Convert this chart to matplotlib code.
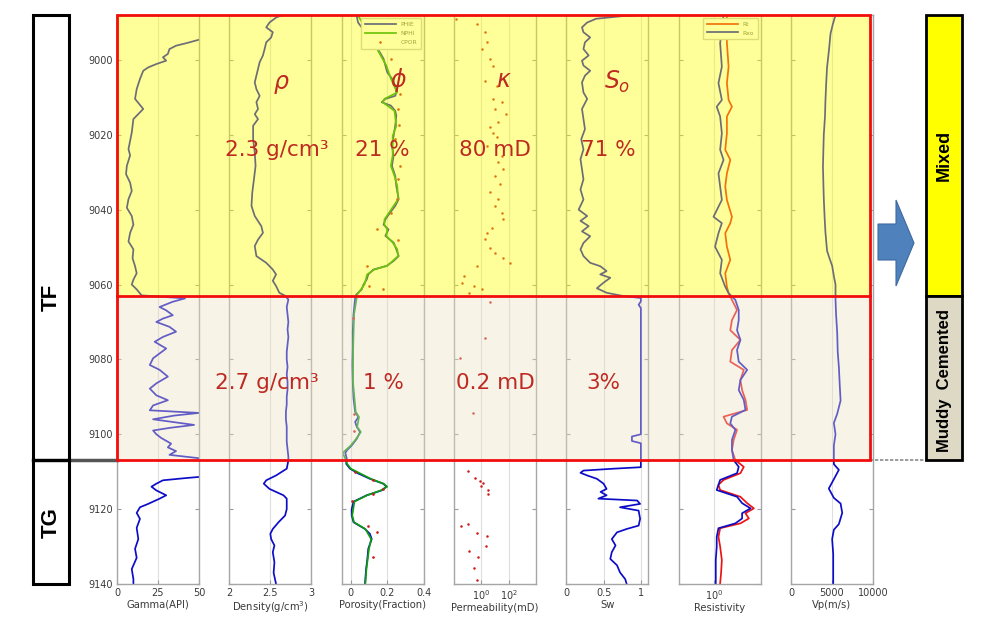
import numpy as np
import matplotlib
matplotlib.use("Agg")
import matplotlib.pyplot as plt
import matplotlib.patches as mpatches
import matplotlib.transforms as mtransforms
from matplotlib.lines import Line2D
from matplotlib.ticker import NullLocator

# ---------------- data ----------------
zone_bounds = [8988, 9063, 9107, 9140]      # top, mixed/cemented boundary, TF/TG boundary, bottom
depth_ticks = [9000, 9020, 9040, 9060, 9080, 9100, 9120, 9140]

gr_depth = [8988, 8994.3, 8994.6, 8995.5, 8996.2, 8997.1, 8998.4, 8999.3, 9000.2, 9001.1, 9002.0, 9002.9,
            9005.1, 9007.8, 9010.4, 9013.1, 9015.8, 9019.4, 9023.8, 9025.5, 9028.3, 9030.5, 9032.8, 9035.0,
            9037.2, 9039.5, 9041.7, 9044.0, 9046.2, 9048.5, 9050.6, 9053.0, 9055.1, 9057.0, 9058.7, 9060.0,
            9061.3, 9062.9, 9063.7, 9064.6, 9066.0, 9066.9, 9068.2, 9069.1, 9070.0, 9071.3, 9072.6, 9074.0,
            9075.3, 9077.1, 9078.4, 9079.7, 9081.5, 9082.8, 9084.6, 9086.4, 9087.8, 9089.6, 9090.9, 9092.3,
            9093.6, 9094.3, 9095.0, 9096.0, 9097.5, 9098.3, 9099.0, 9100.0, 9101.0, 9102.5, 9103.5, 9104.5,
            9105.5, 9106.4, 9107.5, 9111.0, 9111.4, 9111.7, 9112.3, 9113.2, 9114.0, 9115.0, 9116.3, 9117.2,
            9118.6, 9119.5, 9121.0, 9122.6, 9125.0, 9128.0, 9130.6, 9133.0, 9136.0, 9138.7, 9140.0]
gr_api = [60, 55, 50, 42.5, 36, 32, 31, 28, 30, 24, 19, 16,
          14, 12, 11, 16, 10, 9, 7, 8, 6, 5.5, 8, 9,
          7, 6, 9, 10, 8, 7, 10, 9.5, 11, 12, 10, 9,
          12, 15, 41.5, 34, 26, 30, 34, 28, 24, 32, 36, 28,
          23, 30, 26, 22, 20, 26, 31, 24, 20, 24, 31, 22,
          20, 50, 35, 22, 47, 32, 22, 24, 27, 33, 31, 36,
          32, 50, 60, 55, 50, 42, 28, 24, 21, 24, 30, 26,
          19, 14, 12, 14, 12, 13, 11, 12, 9, 10, 10]

rho_depth = [8987.7, 8988.6, 8990.0, 8991.3, 8992.6, 8994.0, 8995.3, 8997.1, 8998.8, 9000.6, 9002.4, 9004.2,
             9006.0, 9007.8, 9009.6, 9011.3, 9013.1, 9014.5, 9015.8, 9017.6, 9021.2, 9024.7, 9028.3, 9031.9,
             9035.4, 9039.0, 9041.7, 9044.4, 9046.2, 9048.0, 9049.7, 9052.4, 9054.2, 9056.0, 9057.3, 9059.0,
             9060.4, 9062.2, 9063.0, 9064, 9066, 9068, 9070, 9072, 9074, 9076, 9078, 9080, 9082, 9084, 9086,
             9088, 9090, 9092, 9094, 9096, 9098, 9100, 9102, 9104, 9106, 9107.0, 9109.2, 9111.0, 9112.3,
             9113.2, 9114.6, 9116.3, 9117.2, 9120.0, 9121.7, 9123.5, 9125.3, 9126.6, 9128.0, 9129.7, 9131.5,
             9134.2, 9137.0, 9140.0]
rho_gcc = [2.70, 2.575, 2.49, 2.45, 2.53, 2.51, 2.45, 2.43, 2.41, 2.37, 2.35, 2.33,
           2.31, 2.33, 2.37, 2.33, 2.35, 2.31, 2.35, 2.29, 2.29, 2.31, 2.32, 2.30,
           2.28, 2.27, 2.31, 2.39, 2.41, 2.35, 2.31, 2.33, 2.45, 2.53, 2.57, 2.53,
           2.57, 2.61, 2.68, 2.72, 2.70, 2.71, 2.72, 2.71, 2.72, 2.71, 2.70, 2.70, 2.71, 2.70, 2.71,
           2.71, 2.70, 2.70, 2.69, 2.69, 2.70, 2.70, 2.70, 2.71, 2.72, 2.72, 2.70, 2.57, 2.45,
           2.42, 2.49, 2.66, 2.70, 2.70, 2.68, 2.60, 2.53, 2.50, 2.51, 2.55, 2.53,
           2.55, 2.54, 2.57]

phie_depth = [8987.7, 8990.0, 8994.0, 8998.0, 8999.7, 9001.5, 9003.3, 9005.0, 9006.9, 9008.7, 9009.6, 9010.4,
              9011.3, 9012.2, 9013.6, 9014.9, 9017.6, 9020.3, 9023.0, 9025.6, 9028.3, 9031.0, 9033.7, 9037.2,
              9039.0, 9040.8, 9042.6, 9044.0, 9045.3, 9047.0, 9048.8, 9050.6, 9052.4, 9053.7, 9055.0, 9056.0,
              9057.3, 9058.7, 9060.0, 9061.3, 9062.7, 9063.7, 9068.0, 9072.6, 9077.0, 9081.5, 9086.0, 9090.4,
              9094.0, 9095.4, 9096.7, 9098.0, 9099.4, 9101.2, 9103.0, 9104.2, 9105.0, 9106.5, 9107.9, 9109.2,
              9110.5, 9111.9, 9113.2, 9114.0, 9115.0, 9116.3, 9118.0, 9120.0, 9121.7, 9123.5, 9125.3, 9126.6,
              9128.0, 9130.6, 9133.3, 9136.0, 9140.0]
phie = [0.03, 0.04, 0.10, 0.16, 0.18, 0.19, 0.20, 0.226, 0.244, 0.25, 0.244, 0.19,
        0.17, 0.22, 0.244, 0.25, 0.244, 0.235, 0.226, 0.235, 0.226, 0.244, 0.25, 0.263,
        0.244, 0.216, 0.19, 0.18, 0.207, 0.19, 0.235, 0.25, 0.263, 0.235, 0.198, 0.124,
        0.096, 0.087, 0.07, 0.06, 0.03, 0.024, 0.015, 0.011, 0.011, 0.009, 0.011, 0.015,
        0.024, 0.042, 0.024, 0.033, 0.051, 0.033, 0.005, -0.02, -0.03, -0.022, -0.025, -0.004,
        0.042, 0.105, 0.178, 0.196, 0.169, 0.087, 0.015, 0.005, 0.005, 0.015, 0.078, 0.105,
        0.115, 0.096, 0.091, 0.084, 0.078]

nphi_depth = [8987.7, 8994.0, 8998.0, 9001.5, 9005.0, 9008.7, 9010.4, 9011.3, 9013.6, 9017.6, 9020.3, 9023.0,
              9025.6, 9028.3, 9031.0, 9033.7, 9037.2, 9040.8, 9042.6, 9044.0, 9045.3, 9047.0, 9048.8, 9050.6,
              9052.4, 9055.0, 9056.0, 9057.3, 9060.0, 9062.7, 9068.0, 9077.0, 9086.0, 9094.0, 9095.4, 9098.0,
              9099.4, 9101.2, 9103.0, 9105.0, 9106.5, 9107.9, 9109.2, 9111.9, 9113.2, 9114.0, 9115.0, 9116.3,
              9118.0, 9121.7, 9123.5, 9125.3, 9128.0, 9130.6, 9136.0, 9140.0]
nphi = [0.035, 0.11, 0.155, 0.195, 0.22, 0.255, 0.185, 0.175, 0.24, 0.25, 0.23, 0.23,
        0.23, 0.22, 0.24, 0.255, 0.26, 0.21, 0.185, 0.185, 0.20, 0.195, 0.23, 0.255,
        0.26, 0.20, 0.13, 0.09, 0.075, 0.035, 0.018, 0.013, 0.012, 0.027, 0.045, 0.035,
        0.055, 0.03, 0.0, -0.045, -0.03, -0.02, 0.0, 0.11, 0.18, 0.20, 0.165, 0.09,
        0.02, 0.008, 0.018, 0.08, 0.112, 0.10, 0.086, 0.08]

cpor_depth = [8999.7, 9009.0, 9013.0, 9017.5, 9021.0, 9028.3, 9031.9, 9037.2, 9040.8, 9045.3, 9048.0,
              9055.0, 9060.4, 9061.3, 9069.0, 9094.5, 9099.0, 9110.1, 9112.3, 9114.6, 9115.9, 9117.7,
              9124.4, 9126.2, 9132.9]
cpor = [0.22, 0.27, 0.26, 0.265, 0.245, 0.27, 0.26, 0.255, 0.22, 0.145, 0.26,
        0.09, 0.10, 0.175, 0.013, 0.02, 0.02, 0.024, 0.124, 0.178, 0.124, 0.005,
        0.095, 0.142, 0.124]

perm_depth = [8989.0, 8990.4, 8992.6, 8995.3, 8997.1, 8999.7, 9001.5, 9005.5, 9006.9, 9010.4, 9011.3, 9013.1,
              9014.5, 9016.7, 9018.0, 9019.4, 9020.7, 9022.9, 9025.6, 9027.4, 9029.2, 9031.0, 9033.2, 9035.4,
              9037.2, 9039.0, 9040.8, 9042.6, 9044.8, 9046.2, 9047.9, 9050.2, 9051.5, 9052.9, 9054.2, 9055.1,
              9057.8, 9059.6, 9060.4, 9062.2, 9061.3, 9064.6, 9074.2, 9079.7, 9094.3, 9109.8, 9111.7, 9112.6,
              9112.9, 9113.8, 9114.8, 9115.9, 9124.4, 9123.9, 9126.3, 9127.2, 9129.9, 9131.3, 9132.9, 9135.8,
              9138.9]
perm_log10 = [-1.86, -0.31, 0.29, 0.40, 0.05, 0.64, 0.88, 0.29, 1.12, 0.88, 1.48, 1.0,
              1.83, 1.24, 0.64, 0.88, 1.12, 0.40, 1.48, 1.24, 1.60, 1.0, 1.36, 0.64,
              1.24, 1.0, 1.48, 1.60, 0.76, 0.40, 0.29, 0.64, 1.0, 1.60, 2.07, -0.31,
              -1.26, -1.38, -0.55, -0.90, 0.05, 0.61, 0.24, -1.53, -0.64, -0.94, -0.47, -0.12,
              0.14, 0.0, 0.47, 0.47, -1.51, -0.94, -0.28, 0.38, 0.31, -0.87, -0.21, -0.56,
              -0.35]

sw_depth = [8988.0, 8988.3, 8989.0, 8990.0, 8991.3, 8992.6, 8994.0, 8995.3, 8997.1, 8998.8, 9000.2, 9001.5,
            9002.9, 9004.2, 9006.0, 9008.7, 9010.4, 9013.1, 9015.8, 9018.5, 9021.2, 9023.9, 9026.5, 9029.2,
            9031.9, 9034.6, 9037.3, 9040.0, 9041.7, 9043.0, 9044.4, 9045.8, 9047.1, 9048.9, 9050.6, 9052.4,
            9054.2, 9055.1, 9056.4, 9057.3, 9058.2, 9059.5, 9061.0, 9062.2, 9063.1, 9063.6, 9064.5, 9065.4,
            9066.3, 9100.0, 9100.6, 9101.8, 9102.4, 9108.8, 9109.2, 9109.7, 9110.3, 9111.0, 9111.9, 9113.2,
            9114.6, 9115.4, 9116.3, 9117.2, 9117.7, 9118.6, 9119.5, 9120.4, 9122.6, 9124.4, 9125.3, 9126.2,
            9128.0, 9129.7, 9131.5, 9133.3, 9135.0, 9136.9, 9138.7, 9140.0]
sw = [1.0, 0.75, 0.40, 0.28, 0.21, 0.23, 0.32, 0.25, 0.23, 0.30, 0.21, 0.23,
      0.32, 0.25, 0.21, 0.23, 0.28, 0.21, 0.23, 0.25, 0.20, 0.23, 0.19, 0.21,
      0.23, 0.19, 0.23, 0.165, 0.28, 0.19, 0.30, 0.21, 0.32, 0.23, 0.19, 0.23,
      0.32, 0.455, 0.54, 0.455, 0.59, 0.50, 0.41, 0.54, 0.77, 1.0, 1.0, 0.97,
      1.0, 1.0, 0.88, 0.88, 1.0, 1.0, 0.63, 0.23, 0.19, 0.28, 0.41, 0.50,
      0.54, 0.46, 0.54, 0.43, 0.95, 0.99, 0.72, 0.97, 0.99, 0.97, 0.81, 0.68,
      0.61, 0.66, 0.61, 0.59, 0.68, 0.72, 0.79, 0.81]

res_depth = [8988.0, 8995.5, 9001.8, 9006.2, 9010.7, 9012.5, 9015.1, 9019.6, 9024.0, 9026.7, 9030.3, 9033.8,
             9037.4, 9041.9, 9043.6, 9046.3, 9049.9, 9053.4, 9057.0, 9060.6, 9062.3, 9064.1, 9066.8, 9069.5,
             9072.2, 9074.8, 9077.5, 9080.6, 9082.8, 9085.5, 9088.2, 9090.8, 9093.5, 9095.3, 9097.1, 9098.8,
             9101.5, 9104.2, 9106.9, 9108.7, 9110.4, 9112.2, 9113.5, 9114.9, 9116.7, 9118.4, 9119.8, 9121.1,
             9122.5, 9123.8, 9125.1, 9127.4, 9130.0, 9133.6, 9137.1, 9139.8]
rt = [2.26, 2.26, 2.52, 2.26, 2.52, 3.13, 2.26, 2.26, 2.03, 2.81, 2.26, 2.03,
      2.26, 3.13, 2.81, 2.03, 2.26, 2.81, 2.03, 2.26, 2.52, 3.13, 4.35, 3.13,
      2.81, 5.41, 3.13, 2.81, 6.72, 5.41, 6.03, 7.50, 8.36, 1.82, 2.26, 4.35,
      3.50, 3.13, 3.90, 6.72, 5.41, 1.82, 1.31, 1.46, 5.41, 8.36, 12.9, 7.50,
      9.32, 5.41, 1.46, 1.31, 1.46, 1.63, 1.55, 1.46]
rxo = [1.82, 1.46, 1.63, 1.31, 1.63, 1.17, 1.46, 1.63, 1.46, 1.82, 1.31, 1.46,
       1.63, 0.95, 1.63, 1.31, 1.05, 1.63, 1.46, 2.03, 2.52, 3.90, 4.85, 4.85,
       4.35, 5.41, 4.35, 4.85, 8.36, 5.41, 4.85, 6.72, 7.50, 3.13, 2.81, 3.90,
       3.13, 3.13, 3.50, 4.85, 4.35, 1.46, 1.31, 1.17, 4.35, 6.03, 10.4, 6.03,
       6.03, 3.90, 1.31, 1.17, 1.17, 1.10, 1.10, 1.10]

vp_depth = [8988, 8990.5, 8993, 8997, 9002, 9006, 9011, 9015, 9020, 9024, 9028.5, 9033, 9037, 9042, 9046,
            9051, 9053, 9055, 9058, 9060, 9062, 9064, 9068, 9073, 9078, 9082, 9087, 9091, 9094.5, 9097,
            9100, 9103, 9107, 9108, 9109.5, 9112, 9114.5, 9117, 9118.5, 9121, 9124, 9125.5, 9128, 9132,
            9135, 9140]
vp = [5430, 5100, 4820, 4650, 4400, 4300, 4200, 4150, 4000, 3950, 3900, 3950, 4000, 4100, 4200,
      4400, 4700, 5020, 5250, 5430, 5430, 5430, 5500, 5640, 5700, 5840, 5950, 6050, 5640, 5230,
      5430, 5230, 5230, 5230, 5840, 5230, 4610, 5230, 6050, 6250, 5840, 5230, 5020, 5150,
      5150, 5150]

track_labels = ["Gamma(API)", "Density(g/cm$^3$)", "Porosity(Fraction)", "Permeability(mD)",
                "Sw", "Resistivity", "Vp(m/s)"]
track_xlims = [(0, 50), (2, 3), (-0.05, 0.4), (1e-2, 1e4), (0, 1.1), (0.1, 20), (0, 10000)]
track_xticks = [[0, 25, 50], [2, 2.5, 3], [0, 0.2, 0.4], [1, 100], [0, 0.5, 1], [1], [0, 5000, 10000]]
track_xticklabels = [["0", "25", "50"], ["2", "2.5", "3"], ["0", "0.2", "0.4"],
                     ["$10^0$", "$10^2$"], ["0", "0.5", "1"], ["$10^0$"], ["0", "5000", "10000"]]
track_log = [False, False, False, True, False, True, False]

zone_names_left = ["TF", "TG"]
zone_names_right = ["Mixed", "Muddy  Cemented"]
symbols = ["ρ", "ϕ", "κ", "$S_o$"]
upper_values = ["2.3 g/cm³", "21 %", "80 mD", "71 %"]
lower_values = ["2.7 g/cm³", "1 %", "0.2 mD", "3%"]

# ---------------- figure ----------------
plt.rcParams["font.family"] = ["DejaVu Sans"]
W, H = 998, 632
fig = plt.figure(figsize=(W / 100, H / 100), dpi=100)


def fx(x):
    return x / W


def fy(y):
    return 1 - y / H


TRACK_LEFT, TRACK_STEP, TRACK_W, TOP, BOTTOM = 117, 112.33, 82, 15, 584
BLUE = (0.05, 0.05, 0.78)
RED = (0.92, 0.08, 0.08)
DOTRED = (0.8, 0.1, 0.1)
GREEN = (0.05, 0.62, 0.05)
SPINE = "#a6a6a6"
TXT = "#3a3a3a"

axes = []
for i in range(7):
    left = TRACK_LEFT + i * TRACK_STEP
    ax = fig.add_axes([fx(left), fy(BOTTOM), TRACK_W / W, (BOTTOM - TOP) / H])
    if track_log[i]:
        ax.set_xscale("log")
    ax.set_xlim(*track_xlims[i])
    ax.set_ylim(zone_bounds[-1], zone_bounds[0])
    ax.set_xticks(track_xticks[i])
    ax.set_xticklabels(track_xticklabels[i])
    ax.xaxis.set_minor_locator(NullLocator())
    ax.set_yticks(depth_ticks)
    ax.yaxis.set_minor_locator(NullLocator())
    ax.tick_params(axis="both", direction="in", length=3, color="#9a9a9a", labelsize=7,
                   labelcolor=TXT, pad=3, top=False, right=True)
    if i > 0:
        ax.tick_params(axis="y", labelleft=False)
    ax.grid(axis="x", color="#dedede", lw=0.8)
    for s in ax.spines.values():
        s.set_color(SPINE)
        s.set_linewidth(1.0)
    ax.set_xlabel(track_labels[i], fontsize=7.2, color=TXT, labelpad=1)
    axes.append(ax)

lw = 1.25
axes[0].plot(gr_api, gr_depth, color=BLUE, lw=lw)
axes[1].plot(rho_gcc, rho_depth, color=BLUE, lw=lw)
axes[2].plot(phie, phie_depth, color=BLUE, lw=lw, label="PHIE")
axes[2].plot(nphi, nphi_depth, color=GREEN, lw=lw, label="NPHI")
axes[2].plot(cpor, cpor_depth, ls="none", marker=".", ms=1.8, color=DOTRED, label="CPOR")
axes[3].plot(10 ** np.array(perm_log10), perm_depth, ls="none", marker=".", ms=1.6, color=DOTRED)
axes[4].plot(sw, sw_depth, color=BLUE, lw=lw)
axes[5].plot(rt, res_depth, color=RED, lw=lw, label="Rt")
axes[5].plot(rxo, res_depth, color=BLUE, lw=lw, label="Rxo")
axes[6].plot(vp, vp_depth, color=BLUE, lw=lw)

for ax, spacing in ((axes[2], 0.7), (axes[5], 0.6)):
    leg = ax.legend(loc="upper right", fontsize=4.3, handlelength=5.2, borderpad=0.6,
                    labelspacing=spacing, borderaxespad=0.5, fancybox=False, framealpha=1,
                    edgecolor="#c8c8c8", markerscale=1.0)
    for t in leg.get_texts():
        t.set_color("#666666")

# ---------------- zone overlays ----------------
trans = mtransforms.blended_transform_factory(fig.transFigure, axes[0].transData)
x0 = fx(TRACK_LEFT)
x1 = fx(TRACK_LEFT + 6 * TRACK_STEP + TRACK_W - 3)
fig.add_artist(mpatches.Rectangle((x0, zone_bounds[0]), x1 - x0, zone_bounds[1] - zone_bounds[0],
                                  transform=trans, facecolor=(1, 1, 0), alpha=0.4,
                                  edgecolor="none", zorder=5))
fig.add_artist(mpatches.Rectangle((x0, zone_bounds[1]), x1 - x0, zone_bounds[2] - zone_bounds[1],
                                  transform=trans, facecolor=(0.93, 0.88, 0.76), alpha=0.38,
                                  edgecolor="none", zorder=5))
fig.add_artist(mpatches.Rectangle((x0, zone_bounds[0]), x1 - x0, zone_bounds[2] - zone_bounds[0],
                                  transform=trans, fill=False, edgecolor=(0.95, 0.05, 0.05),
                                  lw=2.0, zorder=6))
fig.add_artist(Line2D([x0, x1], [zone_bounds[1]] * 2, transform=trans,
                      color=(0.95, 0.05, 0.05), lw=2.0, zorder=6))

# separators
fig.add_artist(Line2D([fx(33), x0], [zone_bounds[2]] * 2, transform=trans,
                      color="#555555", lw=2.5, zorder=4))
fig.add_artist(Line2D([x1, fx(926)], [zone_bounds[2]] * 2, transform=trans,
                      color="#8a8a8a", lw=1.2, ls=(0, (2, 1)), zorder=4))

# left formation boxes
bx0, bx1 = fx(33), fx(69)
fig.add_artist(mpatches.Rectangle((bx0, zone_bounds[0]), bx1 - bx0, zone_bounds[2] - zone_bounds[0],
                                  transform=trans, fill=False, edgecolor="black", lw=2.2, zorder=6))
fig.add_artist(mpatches.Rectangle((bx0, zone_bounds[2]), bx1 - bx0, zone_bounds[3] - zone_bounds[2],
                                  transform=trans, fill=False, edgecolor="black", lw=2.2, zorder=6))
fig.text(fx(51), fy(297), zone_names_left[0], rotation=90, ha="center", va="center",
         fontsize=16, fontweight="bold", family="Liberation Sans", zorder=7)
fig.text(fx(51), fy(523), zone_names_left[1], rotation=90, ha="center", va="center",
         fontsize=16, fontweight="bold", family="Liberation Sans", zorder=7)

# right classification boxes
rx0, rx1 = fx(926), fx(962)
fig.add_artist(mpatches.Rectangle((rx0, zone_bounds[0]), rx1 - rx0, zone_bounds[1] - zone_bounds[0],
                                  transform=trans, facecolor="#FFFF00", edgecolor="black", lw=2.0, zorder=6))
fig.add_artist(mpatches.Rectangle((rx0, zone_bounds[1]), rx1 - rx0, zone_bounds[2] - zone_bounds[1],
                                  transform=trans, facecolor="#DDD9C4", edgecolor="black", lw=2.0, zorder=6))
fig.text(fx(944), fy(155), zone_names_right[0], rotation=90, ha="center", va="center",
         fontsize=13, fontweight="bold", family="Liberation Sans", zorder=7)
fig.text(fx(944), fy(381), zone_names_right[1], rotation=90, ha="center", va="center",
         fontsize=12, fontweight="bold", family="Liberation Sans", zorder=7)

# block arrow
arrow_px = [(878, 224), (896, 224), (896, 200), (914, 243), (896, 286), (896, 260), (878, 260)]
fig.add_artist(mpatches.Polygon([(fx(x), fy(y)) for x, y in arrow_px], closed=True,
                                transform=fig.transFigure, facecolor="#4F81BD",
                                edgecolor="#3C6A9E", lw=0.8, zorder=6))

# annotations
ANN = "#BE2A22"
sym_pos = [(281, 82), (398, 80), (503, 80), (617, 82)]
for s, (x, y) in zip(symbols, sym_pos):
    fig.text(fx(x), fy(y), s, ha="center", va="center", fontsize=17, color=ANN,
             style="italic", zorder=8)
up_pos = [(277, 150), (382, 150), (495, 150), (608, 150)]
for s, (x, y) in zip(upper_values, up_pos):
    fig.text(fx(x), fy(y), s, ha="center", va="center", fontsize=15.5, color=ANN, zorder=8)
low_pos = [(267, 383), (383, 383), (495, 383), (603, 383)]
for s, (x, y) in zip(lower_values, low_pos):
    fig.text(fx(x), fy(y), s, ha="center", va="center", fontsize=15.5, color=ANN, zorder=8)

fig.savefig("out.png", dpi=100)
